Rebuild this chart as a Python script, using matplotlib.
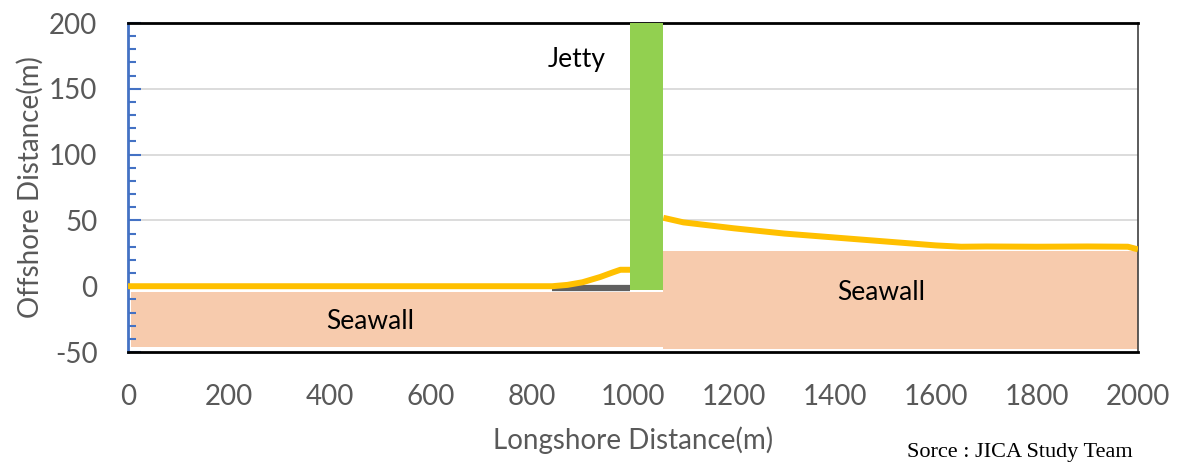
import matplotlib.pyplot as plt
from matplotlib.patches import Rectangle
from matplotlib.ticker import MultipleLocator

# shoreline position (yellow line), left and right of the jetty
left_x = [0, 200, 400, 600, 800, 840, 870, 900, 935, 960, 975, 995]
left_y = [0, 0, 0, 0, 0, 0, 1, 3, 7, 10.5, 12.5, 12.5]
right_x = [1060, 1100, 1200, 1300, 1400, 1500, 1600, 1650, 1700, 1800, 1900, 1980, 2000]
right_y = [52, 48.5, 44, 40, 37, 34, 31, 30, 30.2, 30, 30.2, 30, 28]

# structures: (x0, x1, y0, y1)
seawall_left = (6, 1060, -46.5, -4.5)
seawall_right = (1060, 2000, -48, 26.5)
jetty = (994, 1059, -3, 200)
base_line_x = [840, 995]
base_line_y = [-1, -1]

xticks = list(range(0, 2001, 200))
yticks = [-50, 0, 50, 100, 150, 200]

plt.rcParams["font.family"] = ["Lato", "DejaVu Sans"]
plt.rcParams["axes.unicode_minus"] = False

fig = plt.figure(figsize=(11.79, 4.63), dpi=100)
ax = fig.add_axes([0.1086, 0.2397, 0.8566, 0.7106])

for g in [50, 100, 150]:
    ax.axhline(g, color="#d9d9d9", lw=1.3, zorder=0)

def rect(r, color, z):
    x0, x1, y0, y1 = r
    ax.add_patch(Rectangle((x0, y0), x1 - x0, y1 - y0, facecolor=color,
                           edgecolor="none", zorder=z))

rect(seawall_left, "#f7cbad", 1)
rect(seawall_right, "#f7cbad", 2)
ax.plot(base_line_x, base_line_y, color="#606060", lw=4.5, zorder=2, solid_capstyle="butt")
ax.plot(left_x, left_y, color="#ffc000", lw=4.3, zorder=3, solid_capstyle="butt")
ax.plot(right_x, right_y, color="#ffc000", lw=4.3, zorder=3, solid_capstyle="butt")
rect(jetty, "#92d050", 4)

ax.text(889, 172, "Jetty", fontsize=19, ha="center", va="center", zorder=5)
ax.text(479, -27, "Seawall", fontsize=19, ha="center", va="center", zorder=5)
ax.text(1491, -5, "Seawall", fontsize=19, ha="center", va="center", zorder=5)

ax.set_xlim(0, 2000)
ax.set_ylim(-50, 200)
ax.set_xticks(xticks)
ax.set_yticks(yticks)
ax.yaxis.set_minor_locator(MultipleLocator(10))
ax.tick_params(axis="x", length=0, pad=23, labelsize=20, labelcolor="#595959")
ax.tick_params(axis="y", which="major", direction="in", length=9, width=1.5,
               color="#4472c4", pad=22, labelsize=20, labelcolor="#595959")
ax.tick_params(axis="y", which="minor", direction="in", length=6, width=1.5,
               color="#4472c4")

ax.spines["left"].set_color("#4472c4")
ax.spines["left"].set_linewidth(2)
for s in ["top", "bottom"]:
    ax.spines[s].set_color("black")
    ax.spines[s].set_linewidth(2)
ax.spines["right"].set_color("#404040")
ax.spines["right"].set_linewidth(1.2)

ax.set_xlabel("Longshore Distance(m)", fontsize=20, color="#595959", labelpad=12)
ax.set_ylabel("Offshore Distance(m)", fontsize=20, color="#595959", labelpad=4)

fig.text(0.961, 0.022, "Sorce : JICA Study Team", fontsize=16,
         family="Liberation Serif", ha="right", va="center")

fig.savefig("out.png", dpi=100)
